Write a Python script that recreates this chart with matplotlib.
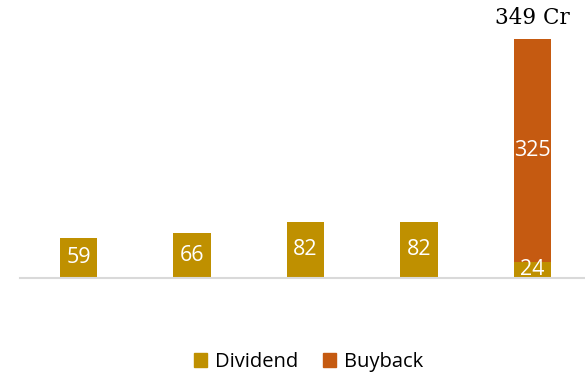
import matplotlib
matplotlib.use("Agg")
import matplotlib.pyplot as plt
from matplotlib.patches import Patch

categories = ["1", "2", "3", "4", "5"]
dividend = [59, 66, 82, 82, 24]
buyback = [0, 0, 0, 0, 325]
total_label = "349 Cr"

GOLD = "#BF9000"
ORANGE = "#C55A11"
AXIS = "#D9D9D9"

fig = plt.figure(figsize=(5.85, 3.75), dpi=100)
ax = fig.add_axes([20 / 585, 97 / 375, 565 / 585, 274 / 375])

x = list(range(len(categories)))
w = 0.332
ax.bar(x, dividend, width=w, color=GOLD, zorder=2)
ax.bar(x, buyback, width=w, bottom=dividend, color=ORANGE, zorder=2)

lab_font = dict(family=["Open Sans", "DejaVu Sans"], fontsize=15.5, color="white")
for xi, d in zip(x, dividend):
    ax.text(xi, d / 2, str(d), ha="center", va="center", zorder=3, **lab_font)
for xi, d, bb in zip(x, dividend, buyback):
    if bb > 0:
        ax.text(xi, d + bb / 2, str(bb), ha="center", va="center", zorder=3, **lab_font)
        ax.annotate(total_label, (xi, d + bb), xytext=(0, 15), textcoords="offset pixels",
                    ha="center", va="baseline", family=["DejaVu Serif"], fontsize=15.5,
                    color="black")

ax.set_xlim(-0.515, 4.463)
ax.set_ylim(0, 400)
for s in ["top", "left", "right"]:
    ax.spines[s].set_visible(False)
ax.spines["bottom"].set_color(AXIS)
ax.spines["bottom"].set_linewidth(1.5)
ax.set_xticks([])
ax.set_yticks([])
ax.patch.set_alpha(0)

handles = [Patch(color=GOLD, label="Dividend"), Patch(color=ORANGE, label="Buyback")]
fig.legend(handles=handles, loc="center", bbox_to_anchor=(308.5 / 585, 13 / 375), ncol=2,
           frameon=False, prop=dict(family=["Open Sans", "DejaVu Sans"], size=14.5),
           handlelength=0.65, handleheight=0.65, handletextpad=0.4, columnspacing=1.2)

fig.savefig("out.png", dpi=100)
